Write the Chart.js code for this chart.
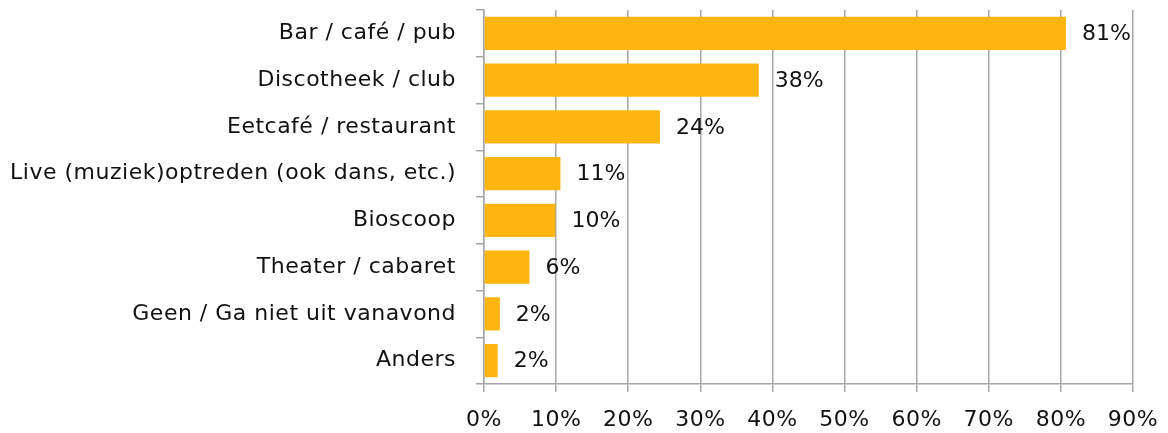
<!DOCTYPE html>
<html>
<head>
<meta charset="utf-8">
<script src="https://cdn.jsdelivr.net/npm/chart.js@4/dist/chart.umd.min.js"></script>
<style>
  html, body { margin: 0; padding: 0; background: #ffffff; }
  #wrap { width: 1168px; height: 433px; position: relative; }
</style>
</head>
<body>
<div id="wrap"><canvas id="chart" width="1168" height="433"></canvas></div>
<script>
// Uitgaan vanavond: waar gaat men naartoe (percentage respondenten)
const categories = [
  'Bar / café / pub',
  'Discotheek / club',
  'Eetcafé / restaurant',
  'Live (muziek)optreden (ook dans, etc.)',
  'Bioscoop',
  'Theater / cabaret',
  'Geen / Ga niet uit vanavond',
  'Anders'
];
const shares = [80.7, 38.1, 24.4, 10.6, 9.9, 6.3, 2.2, 1.9];
const axisTicks = [0, 10, 20, 30, 40, 50, 60, 70, 80, 90];

const FONT = { family: '"DejaVu Sans", Verdana, sans-serif', size: 22 };
const GRID = '#a6a6a6';

// Slightly wider tracking for the axis texts
const tracking = {
  id: 'tracking',
  beforeLayout(chart) { chart.ctx.letterSpacing = '0.5px'; },
  beforeDraw(chart) { chart.ctx.letterSpacing = '0.5px'; }
};

// Percentage labels to the right of each bar
const valueLabels = {
  id: 'valueLabels',
  afterDatasetsDraw(chart) {
    const ctx = chart.ctx;
    const meta = chart.getDatasetMeta(0);
    ctx.save();
    ctx.letterSpacing = '0px';
    ctx.font = FONT.size + 'px ' + FONT.family;
    ctx.fillStyle = '#111111';
    ctx.textAlign = 'left';
    ctx.textBaseline = 'middle';
    meta.data.forEach((bar, i) => {
      const v = chart.data.datasets[0].data[i];
      ctx.fillText(Math.round(v) + '%', bar.x + 16, bar.y + 1);
    });
    ctx.restore();
  }
};

new Chart(document.getElementById('chart'), {
  type: 'bar',
  data: {
    labels: categories,
    datasets: [{
      data: shares,
      backgroundColor: '#FFB50F',
      borderWidth: 0,
      categoryPercentage: 1.0,
      barPercentage: 0.71
    }]
  },
  options: {
    indexAxis: 'y',
    responsive: false,
    animation: false,
    layout: { padding: { top: 10, right: 35, bottom: 0, left: 0 } },
    plugins: {
      legend: { display: false },
      tooltip: { enabled: false }
    },
    scales: {
      x: {
        min: 0,
        max: 90,
        afterBuildTicks(scale) {
          scale.ticks = axisTicks.map(v => ({ value: v }));
        },
        afterFit(scale) {
          scale.height = 49;
          scale.paddingLeft = 0;
          scale.paddingRight = 0;
        },
        ticks: {
          color: '#111111',
          font: FONT,
          padding: 15,
          maxRotation: 0,
          callback: v => v + '%'
        },
        grid: {
          color: GRID,
          lineWidth: 1.5,
          tickLength: 8,
          tickColor: GRID,
          drawOnChartArea: true
        },
        border: { color: GRID, width: 1.5 }
      },
      y: {
        afterFit(scale) {
          scale.width = 484;
          scale.paddingTop = 0;
          scale.paddingBottom = 0;
        },
        ticks: {
          color: '#111111',
          font: FONT,
          padding: 20
        },
        grid: {
          offset: true,
          drawOnChartArea: false,
          tickLength: 8,
          color: GRID,
          lineWidth: 1.5
        },
        border: { color: GRID, width: 1.5 }
      }
    }
  },
  plugins: [tracking, valueLabels]
});
</script>
</body>
</html>
